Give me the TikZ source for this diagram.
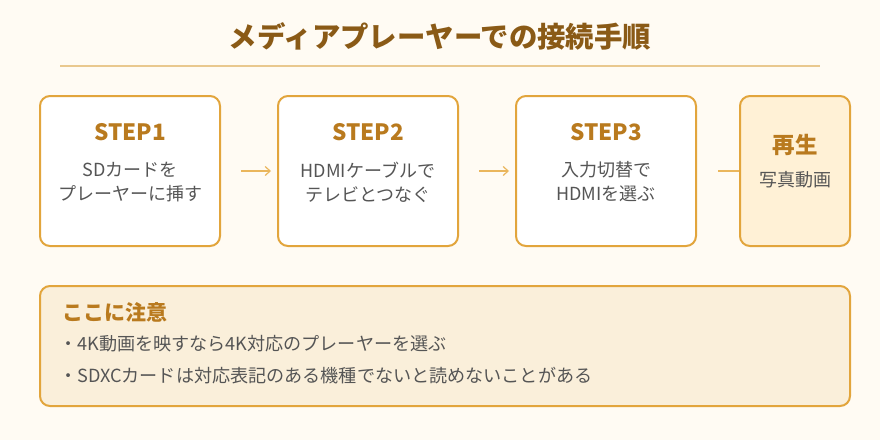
\documentclass[tikz,border=0pt]{standalone}
\usepackage{fontspec}
\setmainfont{Noto Sans CJK JP}
\usetikzlibrary{arrows.meta}
\definecolor{bgc}{HTML}{FFFBF3}
\definecolor{titlec}{HTML}{8A5A16}
\definecolor{rulec}{HTML}{E9C88E}
\definecolor{stepc}{HTML}{B97A1E}
\definecolor{borderc}{HTML}{E2A53C}
\definecolor{textc}{HTML}{555555}
\definecolor{playfill}{HTML}{FFF1D6}
\definecolor{notefill}{HTML}{FAEFDA}
\definecolor{arrowc}{HTML}{EAB65C}
\tikzset{
  stepbox/.style={draw=borderc, line width=2pt, rounded corners=10pt, fill=white, minimum height=150pt, minimum width=180pt, inner sep=0pt},
  playbox/.style={stepbox, fill=playfill, minimum width=110pt},
  steplabel/.style={font=\fontsize{22.5}{26}\selectfont\bfseries, text=stepc},
  bodytext/.style={font=\fontsize{18}{24}\selectfont, text=textc, align=center},
  notetext/.style={anchor=west, font=\fontsize{18.1}{22}\selectfont, text=textc, inner sep=0pt},
  conn/.style={draw=arrowc, line width=1.2pt},
}
\begin{document}
\begin{tikzpicture}[x=1pt,y=-1pt]
\useasboundingbox (0,0) rectangle (880,440);
\fill[bgc] (0,0) rectangle (880,440);
\node[font=\fontsize{28.4}{32}\selectfont\bfseries, text=titlec] (title) at (440,36) {メディアプレーヤーでの接続手順};
\coordinate (rl) at (60,66);
\coordinate (rr) at (820,66);
\draw[rulec, line width=2pt] (rl) -- (rr);
% boxes
\node[stepbox] (s1) at (130,171) {};
\node[stepbox] (s2) at (368,171) {};
\node[stepbox] (s3) at (606,171) {};
% connectors
\draw[conn, -{Straight Barb[length=5pt,width=9pt]}, shorten <=20pt, shorten >=6pt] (s1.east) -- (s2.west);
\draw[conn, -{Straight Barb[length=5pt,width=9pt]}, shorten <=20pt, shorten >=6pt] (s2.east) -- (s3.west);
\node[playbox] (p) at (795,171) {};
\draw[conn, shorten <=21pt] (s3.east) -- (p.west);
% labels
\node[steplabel] (l1) at (130,132) {STEP1};
\node[steplabel] (l2) at (368,132) {STEP2};
\node[steplabel] (l3) at (606,132) {STEP3};
\node[bodytext] (b1) at (130,182) {SDカードを\\プレーヤーに挿す};
\node[bodytext] (b2) at (368,182) {HDMIケーブルで\\テレビとつなぐ};
\node[bodytext] (b3) at (606,182) {入力切替で\\HDMIを選ぶ};
\node[steplabel] (pl) at (795,145) {再生};
\node[bodytext] (pb) at (795,180) {写真動画};
% note
\node[draw=borderc, line width=2pt, rounded corners=10pt, fill=notefill, minimum width=810pt, minimum height=120pt, inner sep=0pt] (note) at (445,346) {};
\node[anchor=west, font=\fontsize{21}{24}\selectfont\bfseries, text=stepc, inner sep=0pt] (nt) at (62,312) {ここに注意};
\node[notetext] (n1) at (59,344) {・4K動画を映すなら4K対応のプレーヤーを選ぶ};
\node[notetext] (n2) at (59,376) {・SDXCカードは対応表記のある機種でないと読めないことがある};
\end{tikzpicture}
\end{document}
